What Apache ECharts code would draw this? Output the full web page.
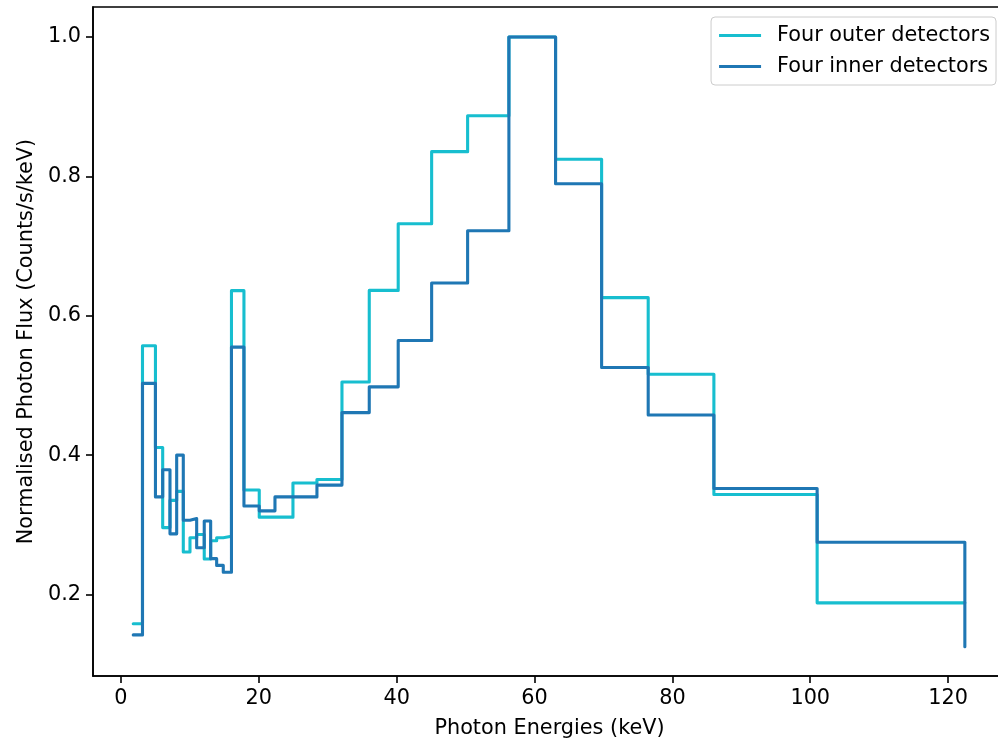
<!DOCTYPE html>
<html>
<head>
<meta charset="utf-8">
<script src="https://cdn.jsdelivr.net/npm/echarts@6/dist/echarts.min.js"></script>
<style>
  html, body { margin: 0; padding: 0; background: #ffffff; overflow: hidden; }
  #chart { width: 998px; height: 741px; }
</style>
</head>
<body>
<div id="chart"></div>
<script>
// Energy bin edges (keV); each flux value applies from its edge to the next one
const binEdges = [1.78, 3.12, 5.0, 6.05, 7.11, 8.08, 9.04, 10.01, 10.98, 12.08, 13.01,
  13.88, 14.84, 16.03, 17.84, 20.06, 22.34, 24.95, 28.43, 32.06, 36.02,
  40.22, 45.07, 50.29, 56.28, 63.05, 69.73, 76.49, 86.02, 101.0, 122.43];

// Normalised flux per bin, outer detector group
const outerFlux = [0.158, 0.557, 0.411, 0.296, 0.335, 0.348, 0.261, 0.2815, 0.286, 0.251,
  0.277, 0.2815, 0.2835, 0.636, 0.350, 0.311, 0.311, 0.360, 0.365, 0.505,
  0.6364, 0.732, 0.8355, 0.887, 1.0, 0.8245, 0.626, 0.516, 0.3435, 0.188];
const outerEnd = 0.188;

// Normalised flux per bin, inner detector group
const innerFlux = [0.142, 0.503, 0.340, 0.379, 0.287, 0.400, 0.3065, 0.309, 0.267, 0.3055,
  0.2514, 0.2417, 0.232, 0.555, 0.327, 0.320, 0.340, 0.340, 0.357, 0.461,
  0.498, 0.5645, 0.647, 0.722, 1.0, 0.7895, 0.5257, 0.4576, 0.352, 0.275];
const innerEnd = 0.125;

const xTicks = [0, 20, 40, 60, 80, 100, 120];
const yTicks = [0.2, 0.4, 0.6, 0.8, 1.0];

const seriesNames = ['Four outer detectors', 'Four inner detectors'];
const seriesColors = ['#17becf', '#1f77b4'];

function stepPoints(values, endValue) {
  const pts = values.map((v, i) => [binEdges[i], v]);
  pts.push([binEdges[binEdges.length - 1], endValue]);
  return pts;
}

const font = 'DejaVu Sans';
const fontSize = 20.8;
const axisStroke = { color: '#000000', width: 1.6 };
const chart = echarts.init(document.getElementById('chart'), null, { renderer: 'canvas' });

chart.setOption({
  animation: false,
  backgroundColor: '#ffffff',
  textStyle: { fontFamily: font },
  // the plot frame runs a little past the right edge of the page
  grid: {
    left: 93, top: 7, width: 913, height: 669,
    outerBoundsMode: 'none',
    show: true, borderColor: '#000000', borderWidth: 1.6,
    containLabel: false
  },
  legend: {
    orient: 'vertical',
    right: 2, top: 17,
    data: seriesNames,
    icon: 'rect',
    itemWidth: 42, itemHeight: 3,
    itemGap: 10,
    padding: [8, 6, 8, 8],
    backgroundColor: 'rgba(255,255,255,0.8)',
    borderColor: '#cccccc', borderWidth: 1, borderRadius: 4,
    textStyle: { fontFamily: font, fontSize: fontSize, color: '#000000', padding: [0, 0, 0, 11], lineHeight: 20 }
  },
  xAxis: {
    type: 'value',
    min: -4.06, max: 128.4,
    name: 'Photon Energies (keV)',
    nameLocation: 'middle',
    nameGap: 42,
    nameTextStyle: { fontFamily: font, fontSize: fontSize, color: '#000000' },
    axisLine: { show: true, onZero: false, lineStyle: axisStroke },
    axisTick: { show: true, length: 7, customValues: xTicks, lineStyle: axisStroke },
    axisLabel: { customValues: xTicks, margin: 12, fontFamily: font, fontSize: fontSize, color: '#000000' },
    splitLine: { show: false }
  },
  yAxis: {
    type: 'value',
    min: 0.083, max: 1.0431,
    name: 'Normalised Photon Flux (Counts/s/keV)',
    nameLocation: 'middle',
    nameGap: 54,
    nameTextStyle: { fontFamily: font, fontSize: fontSize, color: '#000000' },
    axisLine: { show: true, onZero: false, lineStyle: axisStroke },
    axisTick: { show: true, length: 7, customValues: yTicks, lineStyle: axisStroke },
    axisLabel: {
      customValues: yTicks, margin: 12, fontFamily: font, fontSize: fontSize, color: '#000000',
      formatter: v => v.toFixed(1)
    },
    splitLine: { show: false }
  },
  series: [
    {
      name: seriesNames[0],
      type: 'line',
      step: 'end',
      data: stepPoints(outerFlux, outerEnd),
      showSymbol: false,
      lineStyle: { color: seriesColors[0], width: 3.1, join: 'round', cap: 'round' },
      itemStyle: { color: seriesColors[0] },
      z: 2
    },
    {
      name: seriesNames[1],
      type: 'line',
      step: 'end',
      data: stepPoints(innerFlux, innerEnd),
      showSymbol: false,
      lineStyle: { color: seriesColors[1], width: 3.1, join: 'round', cap: 'round' },
      itemStyle: { color: seriesColors[1] },
      z: 3
    }
  ]
});
</script>
</body>
</html>
